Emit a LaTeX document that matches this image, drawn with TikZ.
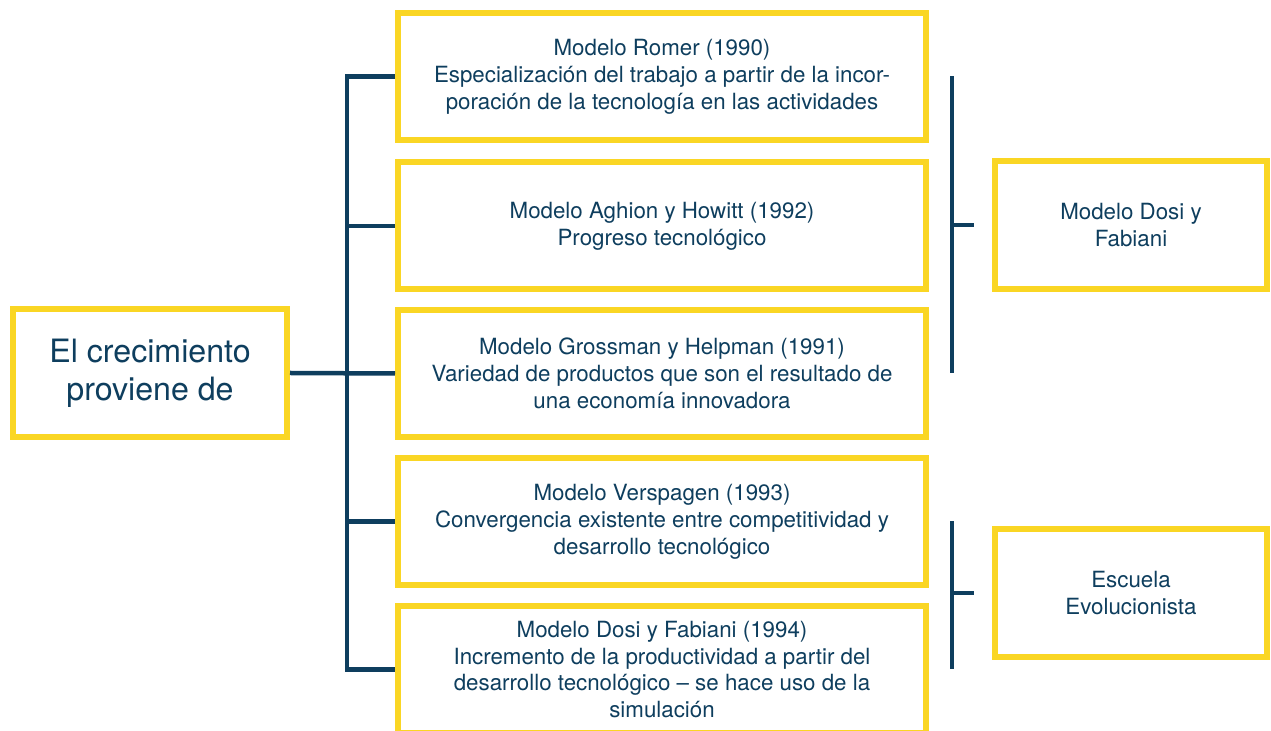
\documentclass[tikz,border=0pt]{standalone}
\usepackage{fontspec}
\setmainfont{TeX Gyre Heros}
\usepackage{tikz}
\usepackage{xcolor}
\definecolor{amarillo}{RGB}{250,214,36}
\definecolor{azul}{RGB}{14,62,94}

\tikzset{
  caja/.style={draw=amarillo, line width=0.12cm, rectangle, fill=white,
    minimum width=10.56cm, minimum height=2.54cm, align=center, text=azul,
    font=\fontsize{12.7}{15.3}\selectfont},
  cajader/.style={caja, minimum width=5.44cm, minimum height=2.56cm},
  raiz/.style={caja, minimum width=5.48cm, minimum height=2.56cm,
    font=\fontsize{18.3}{21.5}\selectfont},
  linea/.style={draw=azul, line width=0.09cm}
}

\begin{document}
\begin{tikzpicture}
\useasboundingbox (0,0) rectangle (25.42,-14.62);
\clip (0,0) rectangle (25.42,-14.62);
% cajas
\node [raiz] (raiz) at (3.0,-7.46) {El crecimiento\\proviene de};
\node [caja] (romer) at (13.24,-1.53) {Modelo Romer (1990)\\Especialización del trabajo a partir de la incor-\\poración de la tecnología en las actividades};
\node [caja] (aghion) at (13.24,-4.52) {Modelo Aghion y Howitt (1992)\\Progreso tecnológico};
\node [caja] (grossman) at (13.24,-7.47) {Modelo Grossman y Helpman (1991)\\Variedad de productos que son el resultado de\\una economía innovadora};
\node [caja] (verspagen) at (13.24,-10.43) {Modelo Verspagen (1993)\\Convergencia existente entre competitividad y\\desarrollo tecnológico};
\node [caja] (dosifab) at (13.24,-13.39) {Modelo Dosi y Fabiani (1994)\\Incremento de la productividad a partir del\\desarrollo tecnológico -- se hace uso de la\\simulación};
\node [cajader] (dosi) at (22.62,-4.5) {Modelo Dosi y\\Fabiani};
\node [cajader] (escuela) at (22.62,-11.86) {Escuela\\Evolucionista};
% lineas
\coordinate (eje) at (6.94,0);
\coordinate (b1) at (19.04,0);
\draw [linea] (raiz.east) -- (grossman.west);
\draw [linea] (romer.west) -- (romer.west -| eje) -- (dosifab.west -| eje) -- (dosifab.west);
\draw [linea] (aghion.west) -- (aghion.west -| eje);
\draw [linea] (verspagen.west) -- (verspagen.west -| eje);
% corchetes
\draw [linea] (b1 |- romer) -- (b1 |- grossman);
\draw [linea] (b1 |- dosi) -- ([xshift=-0.36cm]dosi.west);
\draw [linea] (b1 |- verspagen) -- (b1 |- dosifab);
\draw [linea] (b1 |- escuela) -- ([xshift=-0.36cm]escuela.west);
\end{tikzpicture}
\end{document}
